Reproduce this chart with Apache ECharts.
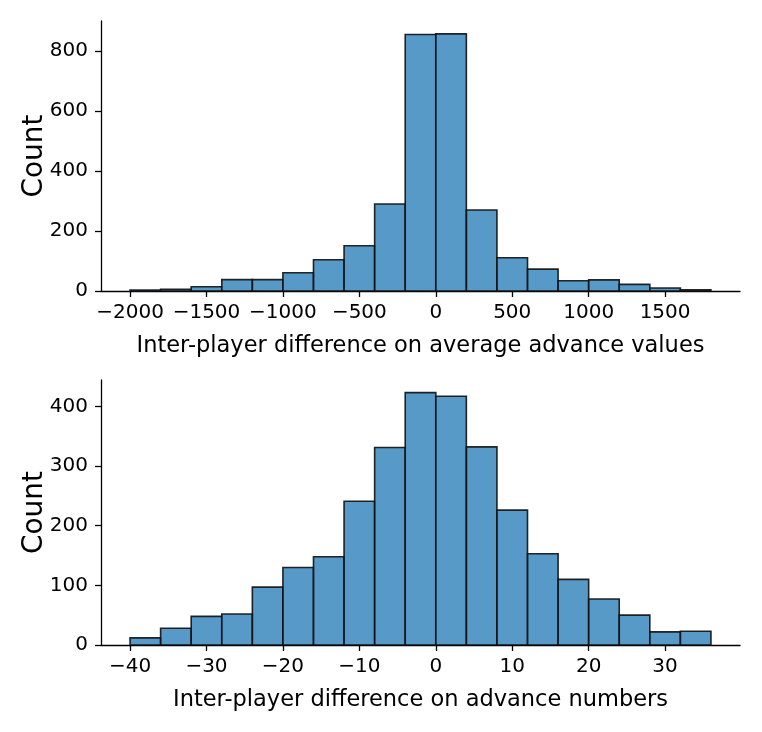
<!DOCTYPE html>
<html>
<head>
<meta charset="utf-8">
<script src="https://cdn.jsdelivr.net/npm/echarts@6/dist/echarts.min.js"></script>
<style>
  html, body { margin: 0; padding: 0; background: #fff; }
  #chart { width: 762px; height: 732px; }
</style>
</head>
<body>
<div id="chart"></div>
<script>
// top histogram: average advance values, bins of 200 from -2000
var valueBinStart = -2000;
var valueBinWidth = 200;
var valueCounts = [3, 6, 14, 38, 38, 61, 104, 151, 290, 855, 857, 270, 111, 73, 34, 37, 22, 10, 4];
var valueTicks = [-2000, -1500, -1000, -500, 0, 500, 1000, 1500];
var valueYTicks = [0, 200, 400, 600, 800];

// bottom histogram: advance numbers, bins of 4 from -40
var numberBinStart = -40;
var numberBinWidth = 4;
var numberCounts = [12, 28, 48, 52, 97, 130, 148, 241, 331, 423, 417, 332, 226, 153, 110, 77, 50, 22, 23];
var numberTicks = [-40, -30, -20, -10, 0, 10, 20, 30];
var numberYTicks = [0, 100, 200, 300, 400];

var font = 'DejaVu Sans';
var barFill = 'rgba(31,119,180,0.75)';
var barEdge = 'rgba(15,15,15,0.9)';

function bins(start, width, counts) {
    var out = [];
    for (var i = 0; i < counts.length; i++) {
        out.push([start + i * width, start + (i + 1) * width, counts[i]]);
    }
    return out;
}

// matplotlib style 5% margins on x, 5% headroom on y
function pad(start, width, n) {
    var lo = start, hi = start + width * n, m = (hi - lo) * 0.05;
    return [lo - m, hi + m];
}

function minusFmt(v) {
    return String(v).replace('-', '\u2212');
}

function xAxis(idx, range, ticks, name) {
    return {
        type: 'value', gridIndex: idx, min: range[0], max: range[1],
        name: name, nameLocation: 'middle', nameGap: 44,
        nameTextStyle: { fontFamily: font, fontSize: 22.5, color: '#000' },
        axisLine: { show: true, onZero: false, lineStyle: { color: '#000', width: 1.3 } },
        axisTick: { show: true, length: 6, lineStyle: { color: '#000', width: 1.3 }, customValues: ticks },
        axisLabel: { fontFamily: font, fontSize: 20, color: '#000', margin: 12, customValues: ticks, formatter: minusFmt },
        splitLine: { show: false }
    };
}

function yAxis(idx, max, ticks) {
    return {
        type: 'value', gridIndex: idx, min: 0, max: max,
        name: 'Count', nameLocation: 'middle', nameGap: 52, nameMoveOverlap: false,
        nameTextStyle: { fontFamily: font, fontSize: 28, color: '#000' },
        axisLine: { show: true, onZero: false, lineStyle: { color: '#000', width: 1.3 } },
        axisTick: { show: true, length: 6, lineStyle: { color: '#000', width: 1.3 }, customValues: ticks },
        axisLabel: { fontFamily: font, fontSize: 20, color: '#000', margin: 13, customValues: ticks },
        splitLine: { show: false }
    };
}

function histSeries(idx, data) {
    return {
        type: 'custom', xAxisIndex: idx, yAxisIndex: idx,
        data: data,
        encode: { x: [0, 1], y: 2 },
        renderItem: function (params, api) {
            var p0 = api.coord([api.value(0), 0]);
            var p1 = api.coord([api.value(1), api.value(2)]);
            return {
                type: 'rect',
                shape: { x: p0[0], y: p1[1], width: p1[0] - p0[0], height: p0[1] - p1[1] },
                style: { fill: barFill, stroke: barEdge, lineWidth: 1.6 }
            };
        }
    };
}

var myChart = echarts.init(document.getElementById('chart'), null, { renderer: 'canvas' });

var topMax = Math.max.apply(null, valueCounts) * 1.05;
var botMax = Math.max.apply(null, numberCounts) * 1.05;

var option = {
    animation: false,
    backgroundColor: '#fff',
    grid: [
        { left: 101, right: 22, top: 21, height: 270 },
        { left: 101, right: 22, top: 380, height: 265 }
    ],
    xAxis: [
        xAxis(0, pad(valueBinStart, valueBinWidth, valueCounts.length), valueTicks, 'Inter-player difference on average advance values'),
        xAxis(1, pad(numberBinStart, numberBinWidth, numberCounts.length), numberTicks, 'Inter-player difference on advance numbers')
    ],
    yAxis: [
        yAxis(0, topMax, valueYTicks),
        yAxis(1, botMax, numberYTicks)
    ],
    series: [
        histSeries(0, bins(valueBinStart, valueBinWidth, valueCounts)),
        histSeries(1, bins(numberBinStart, numberBinWidth, numberCounts))
    ]
};

myChart.setOption(option);
window.addEventListener('resize', myChart.resize);
</script>
</body>
</html>
